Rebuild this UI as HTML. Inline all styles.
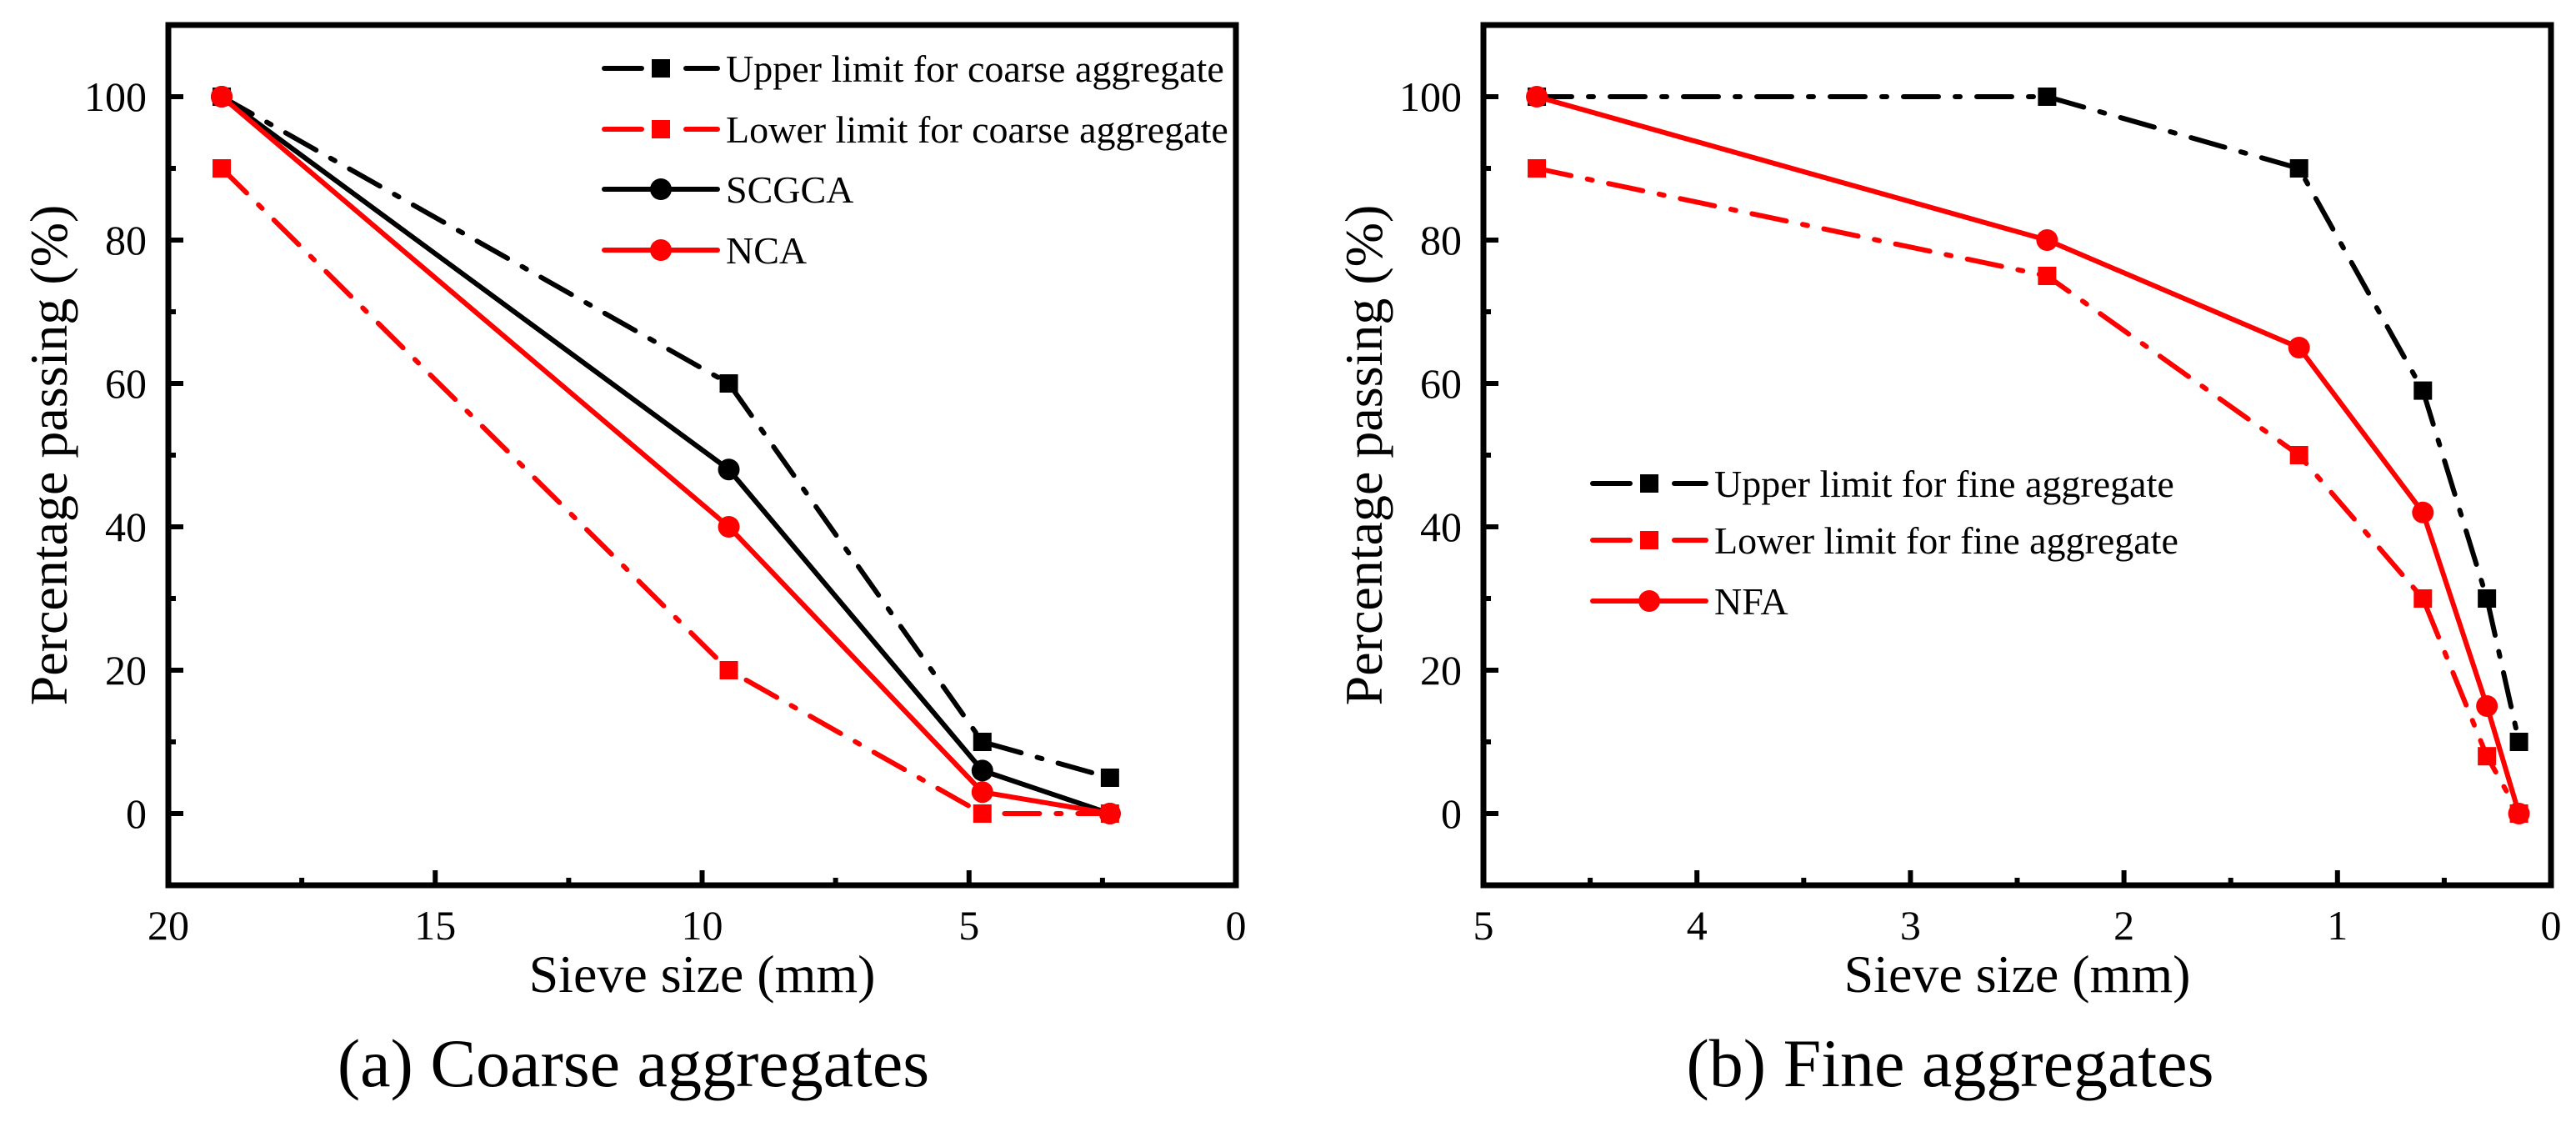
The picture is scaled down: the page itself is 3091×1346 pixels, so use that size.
<!DOCTYPE html>
<html><head><meta charset="utf-8"><style>
html,body{margin:0;padding:0;background:#fff;}
svg{display:block;font-family:"Liberation Serif",serif;}
</style></head><body>
<svg id="fig" width="3091" height="1346" viewBox="0 0 3091 1346" xmlns="http://www.w3.org/2000/svg"></svg>
<script>
// Coarse aggregates data
const coarseSizes = [19, 9.5, 4.75, 2.36];
const coarseUpper = [100, 60, 10, 5];
const coarseLower = [90, 20, 0, 0];
const coarseSCGCA = [100, 48, 6, 0];
const coarseNCA = [100, 40, 3, 0];
const coarseXTicks = [20, 15, 10, 5, 0];
const coarseXMinor = [17.5, 12.5, 7.5, 2.5];
// Fine aggregates data
const fineSizes = [4.75, 2.36, 1.18, 0.6, 0.3, 0.15];
const fineUpper = [100, 100, 90, 59, 30, 10];
const fineLower = [90, 75, 50, 30, 8, 0];
const fineNFA = [100, 80, 65, 42, 15, 0];
const fineXTicks = [5, 4, 3, 2, 1, 0];
const fineXMinor = [4.5, 3.5, 2.5, 1.5, 0.5];
const yTicks = [0, 20, 40, 60, 80, 100];
const yMinor = [10, 30, 50, 70, 90];

const NS = "http://www.w3.org/2000/svg";
const svg = document.getElementById('fig');
function el(tag, attrs, parent, text){
  const e = document.createElementNS(NS, tag);
  for (const k in attrs) e.setAttribute(k, attrs[k]);
  if (text !== undefined) e.textContent = text;
  (parent || svg).appendChild(e);
  return e;
}
const DASHDOT = "42 20 6 20";

function panel(cfg){
  const g = el('g', {});
  
  
  const X0 = cfg.px0, X1 = cfg.px1, Y0 = 1062, Y1 = 30;
  const xs = v => X0 + (cfg.xd0 - v) / (cfg.xd0 - cfg.xd1) * (X1 - X0);
  const ys = v => Y0 - (v - (-10)) / 120 * (Y0 - Y1);
  const fr = el('rect', {x:X0, y:Y1, width:X1-X0, height:Y0-Y1, fill:'none', stroke:'#000', 'stroke-width':7}, g);
  
  
  cfg.xt.forEach(v => {
    const t = el('line', {x1:xs(v), x2:xs(v), y1:Y0, y2:Y0-18, stroke:'#000', 'stroke-width':6}, g);
    
    
    const l = el('text', {x:xs(v), y:1127, 'font-size':50, 'text-anchor':'middle'}, g, String(v));
    
    
  });
  cfg.xm.forEach(v => {
    const t = el('line', {x1:xs(v), x2:xs(v), y1:Y0, y2:Y0-9, stroke:'#000', 'stroke-width':6}, g);
    
    
  });
  yTicks.forEach(v => {
    const t = el('line', {x1:X0, x2:X0+18, y1:ys(v), y2:ys(v), stroke:'#000', 'stroke-width':6}, g);
    
    
    const l = el('text', {x:X0-26, y:ys(v)+17, 'font-size':50, 'text-anchor':'end'}, g, String(v));
    
    
  });
  yMinor.forEach(v => {
    const t = el('line', {x1:X0, x2:X0+9, y1:ys(v), y2:ys(v), stroke:'#000', 'stroke-width':6}, g);
    
    
  });
  const yt = el('text', {x:0, y:0, 'font-size':64, 'text-anchor':'middle', transform:`translate(${X0-122},546) rotate(-90)`}, g, 'Percentage passing (%)');
  
  
  const xt = el('text', {x:(X0+X1)/2, y:1190, 'font-size':64, 'text-anchor':'middle'}, g, 'Sieve size (mm)');
  
  
  const cap = el('text', {x:cfg.capX, y:1303, 'font-size':82, 'text-anchor':'middle'}, g, cfg.caption);
  
  
  cfg.series.forEach(s => {
    const sg = el('g', {}, g);
    
    
    const pts = cfg.sizes.map((sz, i) => xs(sz).toFixed(1) + ',' + ys(s.vals[i]).toFixed(1)).join(' ');
    const pl = el('polyline', {points:pts, fill:'none', stroke:s.color, 'stroke-width':6, 'stroke-dasharray':s.dash ? DASHDOT : 'none', 'stroke-linecap':'round', 'stroke-linejoin':'round'}, sg);
    
    
    cfg.sizes.forEach((sz, i) => {
      let m;
      if (s.marker === 'square') m = el('rect', {x:xs(sz)-11, y:ys(s.vals[i])-11, width:22, height:22, fill:s.color}, sg);
      else m = el('circle', {cx:xs(sz), cy:ys(s.vals[i]), r:13, fill:s.color}, sg);
      
      
    });
  });
  const lg = el('g', {}, g);
  
  
  cfg.series.forEach((s, i) => {
    const y = cfg.legY[i];
    const eg = el('g', {}, lg);
    
    
    const lx0 = cfg.legX, lx1 = cfg.legX + 136, mx = cfg.legX + 68;
    if (s.dash) {
      el('line', {x1:lx0, x2:lx0+45, y1:y, y2:y, stroke:s.color, 'stroke-width':6, 'stroke-linecap':'round'}, eg);
      el('line', {x1:lx1-38, x2:lx1, y1:y, y2:y, stroke:s.color, 'stroke-width':6, 'stroke-linecap':'round'}, eg);
    } else {
      el('line', {x1:lx0, x2:lx1, y1:y, y2:y, stroke:s.color, 'stroke-width':6, 'stroke-linecap':'round'}, eg);
    }
    if (s.marker === 'square') el('rect', {x:mx-11, y:y-11, width:22, height:22, fill:s.color}, eg);
    else el('circle', {cx:mx, cy:y, r:13, fill:s.color}, eg);
    el('text', {x:lx1+10, y:y+16, 'font-size':46}, eg, s.label);
  });
}

panel({name:'coarse-aggregates-chart', px0:202, px1:1483, xd0:20, xd1:0,
  xt:coarseXTicks, xm:coarseXMinor, sizes:coarseSizes, caption:'(a) Coarse aggregates', capX:760,
  legX:725, legY:[82,155,227,300],
  series:[
    {name:'upper-limit-coarse', label:'Upper limit for coarse aggregate', vals:coarseUpper, color:'#000', dash:true, marker:'square'},
    {name:'lower-limit-coarse', label:'Lower limit for coarse aggregate', vals:coarseLower, color:'#ff0000', dash:true, marker:'square'},
    {name:'scgca-series', label:'SCGCA', vals:coarseSCGCA, color:'#000', dash:false, marker:'circle'},
    {name:'nca-series', label:'NCA', vals:coarseNCA, color:'#ff0000', dash:false, marker:'circle'}
  ]});
panel({name:'fine-aggregates-chart', px0:1780, px1:3061, xd0:5, xd1:0,
  xt:fineXTicks, xm:fineXMinor, sizes:fineSizes, caption:'(b) Fine aggregates', capX:2340,
  legX:1911, legY:[580,648,721],
  series:[
    {name:'upper-limit-fine', label:'Upper limit for fine aggregate', vals:fineUpper, color:'#000', dash:true, marker:'square'},
    {name:'lower-limit-fine', label:'Lower limit for fine aggregate', vals:fineLower, color:'#ff0000', dash:true, marker:'square'},
    {name:'nfa-series', label:'NFA', vals:fineNFA, color:'#ff0000', dash:false, marker:'circle'}
  ]});
</script>
</body></html>
